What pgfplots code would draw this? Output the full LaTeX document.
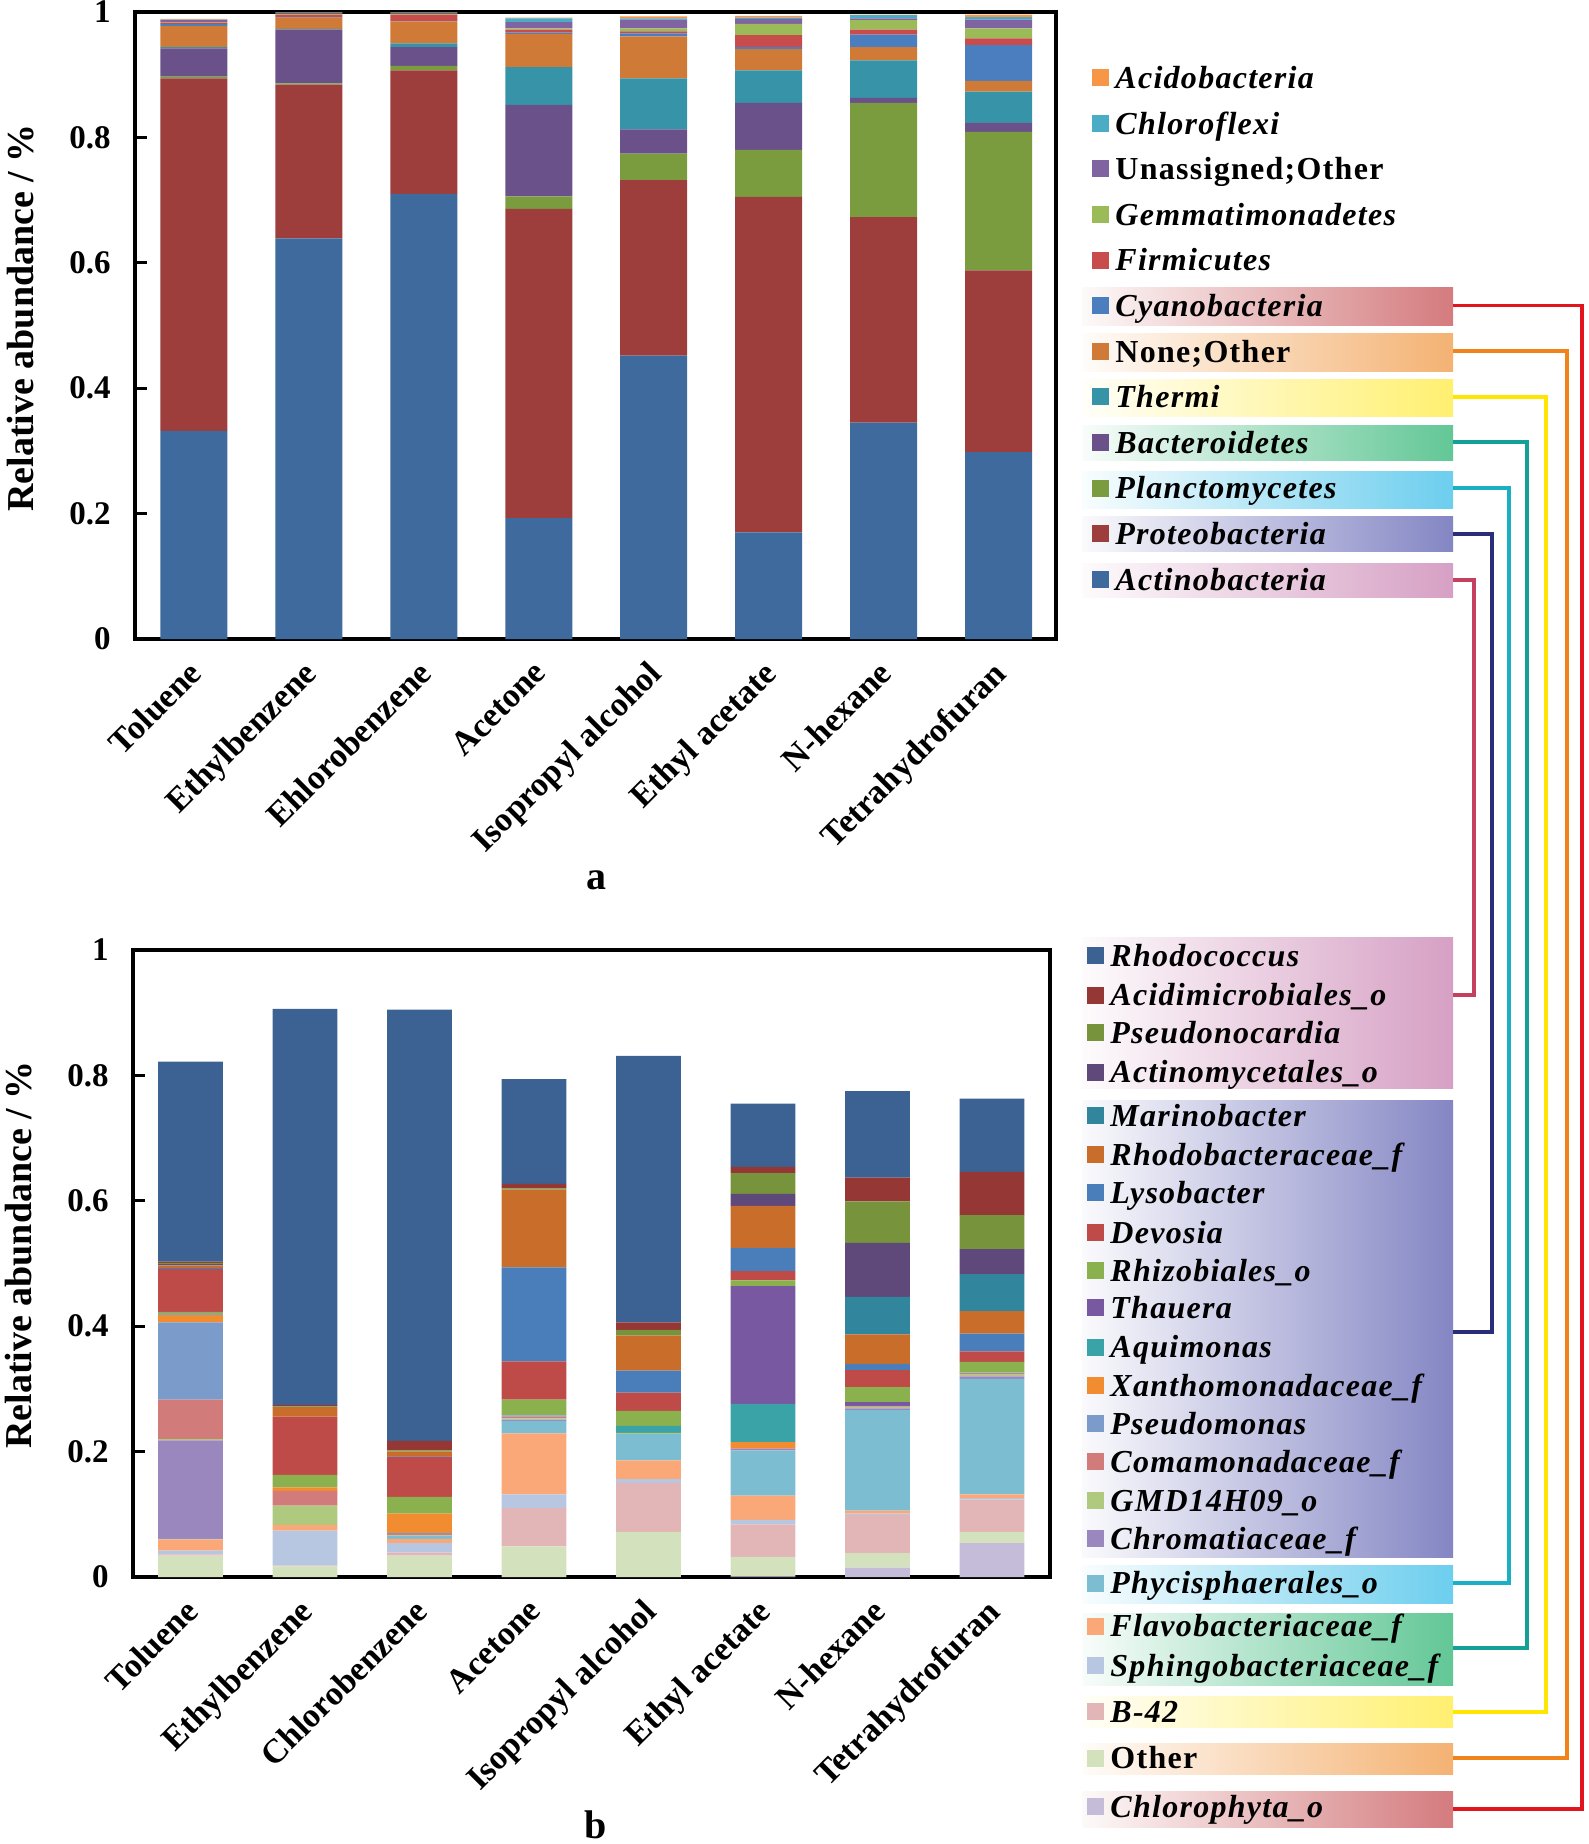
\documentclass[border=0pt]{standalone}
\usepackage{pgfplots}
\pgfplotsset{compat=1.18}
\usepackage{pgfplotstable}
\usepackage{fontspec}
\setmainfont{Liberation Serif}
\newfontfamily\legfont{Liberation Serif}[LetterSpace=4]

% panel a colours
\definecolor{aActino}{HTML}{3E6A9D}
\definecolor{aProteo}{HTML}{9D3E3C}
\definecolor{aPlancto}{HTML}{7B9B3F}
\definecolor{aBacter}{HTML}{6A5189}
\definecolor{aThermi}{HTML}{3793A8}
\definecolor{aNone}{HTML}{CF7A36}
\definecolor{aCyano}{HTML}{4A7EBE}
\definecolor{aFirm}{HTML}{C84C4B}
\definecolor{aGemma}{HTML}{9BBB59}
\definecolor{aUnass}{HTML}{8064A2}
\definecolor{aChloro}{HTML}{4BACC6}
\definecolor{aAcido}{HTML}{F79646}
% panel b colours
\definecolor{bRhdc}{HTML}{3B6293}
\definecolor{bAcdm}{HTML}{953735}
\definecolor{bPsnc}{HTML}{77933C}
\definecolor{bActm}{HTML}{5F497A}
\definecolor{bMari}{HTML}{31859C}
\definecolor{bRhdb}{HTML}{C96E2A}
\definecolor{bLyso}{HTML}{4A7EBB}
\definecolor{bDevo}{HTML}{BE4B48}
\definecolor{bRhiz}{HTML}{8BB04E}
\definecolor{bThau}{HTML}{7858A0}
\definecolor{bAqui}{HTML}{3AA3A8}
\definecolor{bXant}{HTML}{F28C30}
\definecolor{bPseu}{HTML}{7B9BCA}
\definecolor{bComa}{HTML}{D27B7B}
\definecolor{bGMD}{HTML}{AFC97F}
\definecolor{bChrom}{HTML}{9A87BE}
\definecolor{bPhyc}{HTML}{7DBDD2}
\definecolor{bFlav}{HTML}{FAA878}
\definecolor{bSphi}{HTML}{B8C7E1}
\definecolor{bB42}{HTML}{E2B6B6}
\definecolor{bOth}{HTML}{D3E2BC}
\definecolor{bChlph}{HTML}{C4BCD9}
% connector colours
\definecolor{lRed}{HTML}{E2141E}
\definecolor{lOrange}{HTML}{F0841A}
\definecolor{lYellow}{HTML}{FFE600}
\definecolor{lTeal}{HTML}{14A096}
\definecolor{lCyan}{HTML}{1AAFC4}
\definecolor{lNavy}{HTML}{2A2E78}
\definecolor{lCrimson}{HTML}{C4405E}
% box colours
\definecolor{gCyano}{HTML}{D47B7E}
\definecolor{gNone}{HTML}{F4B273}
\definecolor{gThermi}{HTML}{FFF070}
\definecolor{gBacter}{HTML}{62C796}
\definecolor{gPlancto}{HTML}{6CCEEE}
\definecolor{gProteo}{HTML}{8486C4}
\definecolor{gActino}{HTML}{D6A0C4}

\pgfplotstableread{
x Actino Proteo Plancto Bacter Thermi NoneO Cyano Firm Gemma Unass Chloro Acido
0 0.332 0.562 0.003 0.045 0.002 0.034 0.003 0.002 0.001 0.003 0.001 0.001
1 0.639 0.245 0.002 0.086 0.001 0.018 0.001 0.004 0.001 0.001 0.001 0.001
2 0.710 0.197 0.007 0.030 0.006 0.035 0.001 0.010 0.001 0.001 0.001 0.001
3 0.193 0.493 0.020 0.146 0.060 0.053 0.002 0.005 0.002 0.010 0.006 0.001
4 0.452 0.280 0.042 0.039 0.081 0.067 0.005 0.003 0.005 0.014 0.002 0.003
5 0.170 0.535 0.075 0.075 0.052 0.034 0.003 0.019 0.018 0.008 0.002 0.003
6 0.345 0.328 0.182 0.008 0.060 0.021 0.020 0.008 0.015 0.003 0.005 0.001
7 0.298 0.290 0.221 0.014 0.050 0.017 0.057 0.011 0.016 0.014 0.004 0.004
}\tba

\pgfplotstableread{
x Chlph Oth B42 Sphi Flav Phyc Chrom GMD Coma Pseu Xant Aqui Thau Rhiz Devo Lyso Rhdb Mari Actm Psnc Acdm Rhdc
0 0 0.034 0.002 0.006 0.018 0.001 0.157 0.002 0.063 0.123 0.012 0.001 0.001 0.003 0.068 0.002 0.004 0.001 0.001 0.002 0.002 0.319
1 0 0.017 0.001 0.056 0.009 0 0 0.031 0.023 0 0.006 0 0 0.020 0.093 0 0.015 0 0 0.001 0.002 0.632
2 0 0.034 0.005 0.015 0.007 0.005 0 0.001 0.002 0.001 0.031 0 0 0.027 0.064 0.001 0.007 0 0 0.002 0.015 0.688
3 0 0.049 0.061 0.022 0.097 0.020 0.002 0.002 0.003 0.002 0 0 0 0.025 0.061 0.150 0.124 0 0 0.002 0.007 0.167
4 0 0.072 0.078 0.006 0.030 0.042 0 0.002 0 0 0 0.011 0 0.024 0.029 0.035 0.056 0 0 0.009 0.012 0.425
5 0.001 0.031 0.052 0.007 0.039 0.072 0.002 0 0.001 0 0.010 0.061 0.188 0.009 0.015 0.037 0.067 0 0.019 0.033 0.010 0.101
6 0.015 0.023 0.061 0.002 0.005 0.160 0.003 0.002 0.001 0.001 0 0 0.006 0.024 0.027 0.010 0.047 0.060 0.086 0.066 0.038 0.138
7 0.054 0.018 0.052 0.002 0.006 0.184 0.004 0.003 0.001 0.001 0.001 0 0 0.017 0.017 0.028 0.036 0.059 0.040 0.054 0.069 0.117
}\tbb

\pgfplotsset{
  panel/.style={
    scale only axis, height=313.5pt, ymin=0, ymax=1,
    ybar stacked,
    axis line style={line width=1.8pt},
    xtick={0,1,2,3,4,5,6,7}, x tick style={draw=none},
    ytick={0,0.2,0.4,0.6,0.8,1}, yticklabels={0,0.2,0.4,0.6,0.8,1},
    ytick pos=left, tick align=inside, major tick length=6pt,
    y tick style={line width=1.4pt, black},
    yticklabel style={font=\fontsize{16.5}{18}\selectfont\bfseries, inner sep=0pt, xshift=-12pt},
    xticklabel style={font=\fontsize{17}{19}\selectfont\bfseries, rotate=45, anchor=north east, inner sep=0pt, xshift=-9.4pt, yshift=-4.3pt},
  },
}

\newcommand{\legentry}[4]{\node[anchor=base west, inner sep=0pt] at (#1,#2) {\legfont\fontsize{16}{18}\selectfont\bfseries\raisebox{1pt}{\textcolor{#3}{\rule{8.5pt}{8.5pt}}}\hspace{3pt}#4};}
\newcommand{\gbox}[3]{\shade[left color=#1!4!white, right color=#1] (1082,#2) rectangle (1453,#3);}

\begin{document}
\begin{tikzpicture}[x=0.5pt,y=-0.5pt]
\path[use as bounding box] (0,0) rectangle (1589,1844);

% gradient boxes panel a
\gbox{gCyano}{287}{325}
\gbox{gNone}{333}{371}
\gbox{gThermi}{379}{416}
\gbox{gBacter}{425}{460}
\gbox{gPlancto}{471}{508}
\gbox{gProteo}{516}{551}
\gbox{gActino}{563}{597}
% gradient boxes panel b
\gbox{gActino}{937}{1088}
\gbox{gProteo}{1100}{1557}
\gbox{gPlancto}{1565}{1603}
\gbox{gBacter}{1613}{1685}
\gbox{gThermi}{1696}{1727}
\gbox{gNone}{1743}{1774}
\gbox{gCyano}{1791}{1827}

% connectors
\begin{scope}[line width=1.6pt]
\draw[lRed] (1453,305.6) -- (1582,305.6) -- (1582,1809) -- (1453,1809);
\draw[lOrange] (1453,351) -- (1567,351) -- (1567,1758) -- (1453,1758);
\draw[lYellow] (1453,397) -- (1546,397) -- (1546,1712) -- (1453,1712);
\draw[lTeal] (1453,442) -- (1527,442) -- (1527,1648) -- (1453,1648);
\draw[lCyan] (1453,488) -- (1509,488) -- (1509,1583) -- (1453,1583);
\draw[lNavy] (1453,534) -- (1492,534) -- (1492,1332) -- (1453,1332);
\draw[lCrimson] (1453,580) -- (1474,580) -- (1474,995) -- (1453,995);
\end{scope}

% panel a
\begin{axis}[panel, at={(67.5pt,-319.5pt)}, anchor=south west,
  width=460.5pt, xmin=-0.513, xmax=7.5, bar width=0.583,
  xticklabels={Toluene,Ethylbenzene,Ehlorobenzene,Acetone,Isopropyl alcohol,Ethyl acetate,N-hexane,Tetrahydrofuran}]
\addplot[fill=aActino, draw=none] table[x=x,y=Actino]{\tba};
\addplot[fill=aProteo, draw=none] table[x=x,y=Proteo]{\tba};
\addplot[fill=aPlancto, draw=none] table[x=x,y=Plancto]{\tba};
\addplot[fill=aBacter, draw=none] table[x=x,y=Bacter]{\tba};
\addplot[fill=aThermi, draw=none] table[x=x,y=Thermi]{\tba};
\addplot[fill=aNone, draw=none] table[x=x,y=NoneO]{\tba};
\addplot[fill=aCyano, draw=none] table[x=x,y=Cyano]{\tba};
\addplot[fill=aFirm, draw=none] table[x=x,y=Firm]{\tba};
\addplot[fill=aGemma, draw=none] table[x=x,y=Gemma]{\tba};
\addplot[fill=aUnass, draw=none] table[x=x,y=Unass]{\tba};
\addplot[fill=aChloro, draw=none] table[x=x,y=Chloro]{\tba};
\addplot[fill=aAcido, draw=none] table[x=x,y=Acido]{\tba};
\end{axis}

% panel b
\begin{axis}[panel, at={(66.5pt,-788.5pt)}, anchor=south west,
  width=458.5pt, xmin=-0.502, xmax=7.507, bar width=0.565,
  xticklabels={Toluene,Ethylbenzene,Chlorobenzene,Acetone,Isopropyl alcohol,Ethyl acetate,N-hexane,Tetrahydrofuran}]
\addplot[fill=bChlph, draw=none] table[x=x,y=Chlph]{\tbb};
\addplot[fill=bOth, draw=none] table[x=x,y=Oth]{\tbb};
\addplot[fill=bB42, draw=none] table[x=x,y=B42]{\tbb};
\addplot[fill=bSphi, draw=none] table[x=x,y=Sphi]{\tbb};
\addplot[fill=bFlav, draw=none] table[x=x,y=Flav]{\tbb};
\addplot[fill=bPhyc, draw=none] table[x=x,y=Phyc]{\tbb};
\addplot[fill=bChrom, draw=none] table[x=x,y=Chrom]{\tbb};
\addplot[fill=bGMD, draw=none] table[x=x,y=GMD]{\tbb};
\addplot[fill=bComa, draw=none] table[x=x,y=Coma]{\tbb};
\addplot[fill=bPseu, draw=none] table[x=x,y=Pseu]{\tbb};
\addplot[fill=bXant, draw=none] table[x=x,y=Xant]{\tbb};
\addplot[fill=bAqui, draw=none] table[x=x,y=Aqui]{\tbb};
\addplot[fill=bThau, draw=none] table[x=x,y=Thau]{\tbb};
\addplot[fill=bRhiz, draw=none] table[x=x,y=Rhiz]{\tbb};
\addplot[fill=bDevo, draw=none] table[x=x,y=Devo]{\tbb};
\addplot[fill=bLyso, draw=none] table[x=x,y=Lyso]{\tbb};
\addplot[fill=bRhdb, draw=none] table[x=x,y=Rhdb]{\tbb};
\addplot[fill=bMari, draw=none] table[x=x,y=Mari]{\tbb};
\addplot[fill=bActm, draw=none] table[x=x,y=Actm]{\tbb};
\addplot[fill=bPsnc, draw=none] table[x=x,y=Psnc]{\tbb};
\addplot[fill=bAcdm, draw=none] table[x=x,y=Acdm]{\tbb};
\addplot[fill=bRhdc, draw=none] table[x=x,y=Rhdc]{\tbb};
\end{axis}

% axis titles and panel letters
\node[rotate=90] at (21,318) {\fontsize{19}{22}\selectfont\bfseries Relative abundance / \%};
\node[rotate=90] at (19,1255) {\fontsize{19}{22}\selectfont\bfseries Relative abundance / \%};
\node[anchor=base, inner sep=0pt] at (596,889) {\fontsize{20}{24}\selectfont\bfseries a};
\node[anchor=base, inner sep=0pt] at (596,1838) {\fontsize{20}{24}\selectfont\bfseries b};

% legend a
\legentry{1092}{88}{aAcido}{\itshape Acidobacteria}
\legentry{1092}{134}{aChloro}{\itshape Chloroflexi}
\legentry{1092}{179}{aUnass}{Unassigned;Other}
\legentry{1092}{225}{aGemma}{\itshape Gemmatimonadetes}
\legentry{1092}{270.5}{aFirm}{\itshape Firmicutes}
\legentry{1092}{316}{aCyano}{\itshape Cyanobacteria}
\legentry{1092}{362}{aNone}{None;Other}
\legentry{1092}{407}{aThermi}{\itshape Thermi}
\legentry{1092}{453}{aBacter}{\itshape Bacteroidetes}
\legentry{1092}{498.5}{aPlancto}{\itshape Planctomycetes}
\legentry{1092}{544}{aProteo}{\itshape Proteobacteria}
\legentry{1092}{590}{aActino}{\itshape Actinobacteria}

% legend b
\legentry{1087}{966}{bRhdc}{\itshape Rhodococcus}
\legentry{1087}{1005.5}{bAcdm}{\itshape Acidimicrobiales\_o}
\legentry{1087}{1043}{bPsnc}{\itshape Pseudonocardia}
\legentry{1087}{1082.5}{bActm}{\itshape Actinomycetales\_o}
\legentry{1087}{1126}{bMari}{\itshape Marinobacter}
\legentry{1087}{1165}{bRhdb}{\itshape Rhodobacteraceae\_f}
\legentry{1087}{1203}{bLyso}{\itshape Lysobacter}
\legentry{1087}{1243}{bDevo}{\itshape Devosia}
\legentry{1087}{1281}{bRhiz}{\itshape Rhizobiales\_o}
\legentry{1087}{1318}{bThau}{\itshape Thauera}
\legentry{1087}{1357.5}{bAqui}{\itshape Aquimonas}
\legentry{1087}{1396}{bXant}{\itshape Xanthomonadaceae\_f}
\legentry{1087}{1434}{bPseu}{\itshape Pseudomonas}
\legentry{1087}{1472}{bComa}{\itshape Comamonadaceae\_f}
\legentry{1087}{1511}{bGMD}{\itshape GMD14H09\_o}
\legentry{1087}{1549}{bChrom}{\itshape Chromatiaceae\_f}
\legentry{1087}{1593.5}{bPhyc}{\itshape Phycisphaerales\_o}
\legentry{1087}{1636.5}{bFlav}{\itshape Flavobacteriaceae\_f}
\legentry{1087}{1676}{bSphi}{\itshape Sphingobacteriaceae\_f}
\legentry{1087}{1722}{bB42}{\itshape B-42}
\legentry{1087}{1768.5}{bOth}{Other}
\legentry{1087}{1817}{bChlph}{\itshape Chlorophyta\_o}
\end{tikzpicture}
\end{document}
